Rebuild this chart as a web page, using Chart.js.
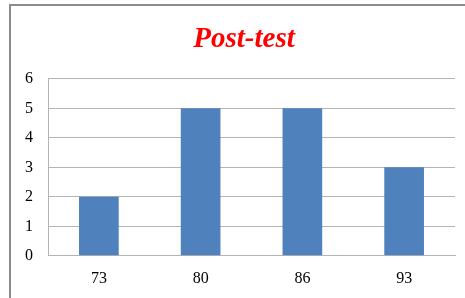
<!DOCTYPE html>
<html>
<head>
<meta charset="utf-8">
<script src="https://cdn.jsdelivr.net/npm/chart.js@4"></script>
<style>
    body { margin: 0; background: #fff; }
    #wrap { position: relative; width: 465px; height: 298px; overflow: hidden; }
    #frame { position: absolute; left: 9px; top: 4px; width: 470px; height: 310px; border: 2px solid #8c8c8c; box-sizing: border-box; }
    #myChart { position: absolute; left: 0; top: 0; }
</style>
</head>
<body>
<div id="wrap">
    <div id="frame"></div>
    <canvas id="myChart" width="465" height="298"></canvas>
</div>
<script>
// ----------------------- DATA ----------------------- //
var scores = ['73', '80', '86', '93'];
var counts = [2, 5, 5, 3];
var chartTitle = 'Post-test';

var serif = "'Liberation Serif', 'Times New Roman', serif";
var gridColor = '#b4b4b4';

// the original frame runs past the right edge, so its title sits a bit right of centre
var shiftTitle = {
    id: 'shiftTitle',
    afterLayout: (chart) => {
        if (chart.titleBlock) chart.titleBlock.left += 23;
    }
};

var ctx = document.getElementById('myChart').getContext('2d');
var chart = new Chart(ctx, {
    type: 'bar',
    data: {
        labels: scores,
        datasets: [{
            data: counts,
            backgroundColor: '#4f81bd',
            borderWidth: 0,
            barPercentage: 0.78,
            categoryPercentage: 0.5
        }]
    },
    options: {
        responsive: false,
        animation: false,
        layout: { padding: { left: 10, right: 10, top: 0, bottom: -3 } },
        plugins: {
            legend: { display: false },
            tooltip: { enabled: false },
            title: {
                display: true,
                text: chartTitle,
                color: '#ff0000',
                font: { family: serif, size: 29, weight: 'bold', style: 'italic' },
                padding: { top: 22, bottom: 22 }
            }
        },
        scales: {
            x: {
                grid: { display: false, drawTicks: false, tickLength: 0 },
                border: { color: gridColor, width: 1 },
                ticks: { color: '#000', font: { family: serif, size: 16 }, padding: 13 }
            },
            y: {
                min: 0,
                max: 6,
                grid: { color: gridColor, drawTicks: false, tickLength: 0 },
                border: { color: gridColor, width: 1 },
                ticks: { stepSize: 1, color: '#000', font: { family: serif, size: 16 }, padding: 15 }
            }
        }
    },
    plugins: [shiftTitle]
});
</script>
</body>
</html>
